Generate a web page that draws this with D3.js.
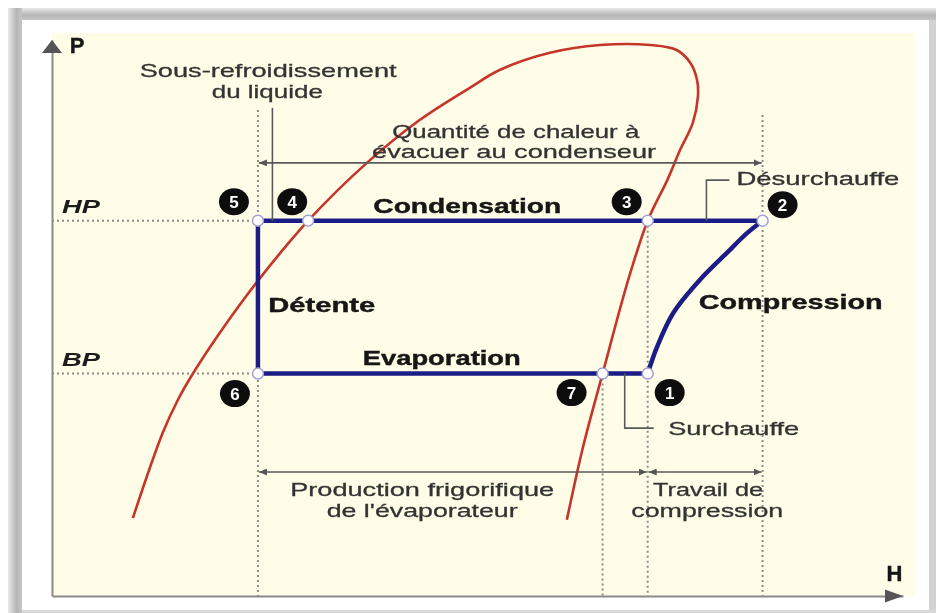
<!DOCTYPE html>
<html lang="fr">
<head>
<meta charset="UTF-8">
<script src="https://cdn.jsdelivr.net/npm/d3@7"></script>
<title>Diagramme P-H</title>
<style>
  body { margin: 0; background: #fff; }
  svg { display: block; font-family: "Liberation Sans", Arial, sans-serif; }
  .reg { fill: #333; font-size: 19px; stroke: #333; stroke-width: 0.3; }
  .big { fill: #151515; font-size: 21px; font-weight: bold; stroke: #151515; stroke-width: 0.4; }
  .lvl { fill: #1c1c1c; font-size: 19px; font-weight: bold; font-style: italic; }
  .dot { stroke: #8c8c8c; stroke-width: 2; stroke-dasharray: 2,3; fill: none; }
  .dim { stroke: #5a5a5a; stroke-width: 1.6; fill: none; }
</style>
</head>
<body>
<script>
// pressure levels
const levels = ["HP", "BP"];
const levelP = [67.5, 40];

// cycle points (H, P)
const pointIds = ["1", "2", "3", "4", "5", "6", "7"];
const pointH = [70.0, 83.5, 70.0, 30.1, 24.2, 24.2, 64.7];
const pointP = [40, 67.5, 67.5, 67.5, 67.5, 40, 40];

// saturation curve (left branch -> top -> right branch)
const domeH = [9.5, 13.0, 14.8, 16.6, 19.7, 24.1, 30.1, 37.0, 43.2, 49.1, 52.6, 58.5, 64.4, 70.3, 73.4, 75.0, 75.8, 75.9, 75.3, 73.8, 72.3, 70.0, 67.7, 64.7, 62.4, 60.5];
const domeP = [14.0, 29.3, 35.3, 40.1, 47.3, 56.5, 67.5, 77.9, 85.6, 91.4, 94.6, 97.7, 99.1, 99.1, 98.2, 95.9, 92.8, 89.8, 85.1, 80.2, 74.8, 67.5, 56.8, 40.0, 26.8, 13.7];

// compression 1 -> 2
const compH = [70.0, 71.1, 73.0, 76.1, 79.3, 81.7, 83.5];
const compP = [40.0, 44.8, 50.9, 56.8, 61.7, 65.3, 67.5];

const W = 936, H = 613;
const hScale = d3.scaleLinear().domain([0, 100]).range([52, 903]);
const pScale = d3.scaleLinear().domain([0, 100]).range([596, 40]);

const svg = d3.select("body").append("svg").attr("width", W).attr("height", H);
const defs = svg.append("defs");

// frame gradients
const gTop = defs.append("linearGradient").attr("id", "gTop").attr("x1", 0).attr("y1", 0).attr("x2", 0).attr("y2", 1);
gTop.append("stop").attr("offset", 0).attr("stop-color", "#e9e9e9");
gTop.append("stop").attr("offset", 0.6).attr("stop-color", "#b6b6b6");
gTop.append("stop").attr("offset", 1).attr("stop-color", "#c6c6c6");
const gLeft = defs.append("linearGradient").attr("id", "gLeft").attr("x1", 0).attr("y1", 0).attr("x2", 1).attr("y2", 0);
gLeft.append("stop").attr("offset", 0).attr("stop-color", "#e9e9e9");
gLeft.append("stop").attr("offset", 0.6).attr("stop-color", "#b6b6b6");
gLeft.append("stop").attr("offset", 1).attr("stop-color", "#c6c6c6");

defs.append("filter").attr("id", "soft")
  .append("feGaussianBlur").attr("stdDeviation", 0.45);

// arrow heads
defs.append("marker").attr("id", "tip")
  .attr("viewBox", "0 0 8 7").attr("refX", 8).attr("refY", 3.5)
  .attr("markerUnits", "userSpaceOnUse").attr("markerWidth", 8).attr("markerHeight", 7)
  .attr("orient", "auto-start-reverse")
  .append("path").attr("d", "M0,0L8,3.5L0,7z").attr("fill", "#555");

// frame
svg.append("rect").attr("x", 8).attr("y", 8).attr("width", W - 8).attr("height", 12).attr("fill", "url(#gTop)");
svg.append("rect").attr("x", 8).attr("y", 8).attr("width", 14).attr("height", H - 8).attr("fill", "url(#gLeft)");
svg.append("rect").attr("x", 929).attr("y", 20).attr("width", 7).attr("height", H - 20).attr("fill", "#d2d2d2");
svg.append("rect").attr("x", 22).attr("y", 610).attr("width", W - 22).attr("height", 3).attr("fill", "#d8d8d8");
svg.append("rect").attr("x", hScale(0)).attr("y", 33)
  .attr("width", 915 - hScale(0)).attr("height", pScale(0) - 33).attr("fill", "#fffde7");

const g = svg.append("g").attr("filter", "url(#soft)");

// axes
g.append("g").attr("transform", `translate(0,${pScale(0)})`)
  .call(d3.axisBottom(hScale).tickValues([]).tickSizeOuter(0))
  .select(".domain").attr("stroke", "#8a8a8a").attr("stroke-width", 2);
g.append("g").attr("transform", `translate(${hScale(0)},0)`)
  .call(d3.axisLeft(pScale).tickValues([]).tickSizeOuter(0))
  .select(".domain").attr("stroke", "#8a8a8a").attr("stroke-width", 2);
const xe = hScale(100), ye = pScale(100);
g.append("path").attr("fill", "#555")
  .attr("d", `M${xe},${pScale(0)}L${xe - 18},${pScale(0) - 6.5}L${xe - 18},${pScale(0) + 6.5}Z`);
g.append("path").attr("fill", "#555")
  .attr("d", `M${hScale(0)},${ye}L${hScale(0) - 10},${ye + 13}L${hScale(0) + 10},${ye + 13}Z`);
g.append("text").attr("x", hScale(2.1)).attr("y", pScale(97.7)).attr("class", "big")
  .style("font-size", "22px").text("P");
g.append("text").attr("x", hScale(99)).attr("y", pScale(2.7)).attr("class", "big")
  .attr("text-anchor", "middle").style("font-size", "22px").text("H");

// pressure level guides
levels.forEach((name, i) => {
  g.append("line").attr("class", "dot")
    .attr("x1", hScale(0)).attr("x2", hScale(pointH[4]))
    .attr("y1", pScale(levelP[i])).attr("y2", pScale(levelP[i]));
  g.append("text").attr("class", "lvl").attr("text-anchor", "middle")
    .attr("x", hScale(3.4)).attr("y", pScale(levelP[i]) - 8)
    .attr("textLength", 38).attr("lengthAdjust", "spacingAndGlyphs").text(name);
});

// vertical enthalpy guides: [h, pTop]
const guides = [[pointH[4], 87.4], [pointH[1], 86.5], [pointH[2], levelP[0]], [pointH[6], levelP[1]]];
guides.forEach(([h, pt]) => {
  g.append("line").attr("class", "dot")
    .attr("x1", hScale(h)).attr("x2", hScale(h))
    .attr("y1", pScale(pt)).attr("y2", pScale(0));
});

// saturation curve
const dome = domeH.map((h, i) => [h, domeP[i]]);
const line = d3.line().x(d => hScale(d[0])).y(d => pScale(d[1])).curve(d3.curveCatmullRom.alpha(0.5));
g.append("path").attr("d", line(dome)).attr("fill", "none")
  .attr("stroke", "#c5342c").attr("stroke-width", 2.6);

// cycle
const navy = "#1e1e86";
const pt = i => [pointH[i], pointP[i]];
g.append("path").attr("fill", "none").attr("stroke", navy).attr("stroke-width", 4.5)
  .attr("stroke-linejoin", "round")
  .attr("d", d3.line().x(d => hScale(d[0])).y(d => pScale(d[1]))([pt(1), pt(4), pt(5), pt(0)]));
g.append("path").attr("fill", "none").attr("stroke", navy).attr("stroke-width", 4.5)
  .attr("d", line(compH.map((h, i) => [h, compP[i]])));

// dimension arrows: [h1, h2, p]
const dims = [[pointH[4], pointH[1], 77.9], [pointH[5], pointH[0], 22.3], [pointH[0], pointH[1], 22.3]];
dims.forEach(([a, b, p]) => {
  g.append("line").attr("class", "dim")
    .attr("x1", hScale(a) + 1).attr("x2", hScale(b) - 1)
    .attr("y1", pScale(p)).attr("y2", pScale(p))
    .attr("marker-start", "url(#tip)").attr("marker-end", "url(#tip)");
});

// pointers
const lp = d3.line().x(d => hScale(d[0])).y(d => pScale(d[1]));
g.append("path").attr("class", "dim").attr("stroke-width", 2.4).attr("stroke", "#444")
  .attr("d", lp([[25.9, 87.8], [25.9, levelP[0]]]));
g.append("path").attr("class", "dim").attr("stroke-width", 2).attr("stroke", "#444")
  .attr("d", lp([[76.9, levelP[0]], [76.9, 74.8], [79.6, 74.8]]));
g.append("path").attr("class", "dim").attr("stroke-width", 2).attr("stroke", "#444")
  .attr("d", lp([[67.3, levelP[1]], [67.3, 30.2], [70.7, 30.2]]));

// point markers
pointIds.forEach((id, i) => {
  g.append("circle").attr("cx", hScale(pointH[i])).attr("cy", pScale(pointP[i])).attr("r", 5.5)
    .attr("fill", "#fff").attr("stroke", "#a0a0d8").attr("stroke-width", 1.5);
});

// numbered badges
const badgeOffset = { "1": [22, 19], "2": [20, -16], "3": [-21, -19], "4": [-16, -19], "5": [-24, -19], "6": [-23, 20], "7": [-31, 19] };
pointIds.forEach((id, i) => {
  const [dx, dy] = badgeOffset[id];
  const cx = hScale(pointH[i]) + dx, cy = pScale(pointP[i]) + dy;
  g.append("ellipse").attr("cx", cx).attr("cy", cy).attr("rx", 15).attr("ry", 13.5).attr("fill", "#111");
  g.append("text").attr("x", cx).attr("y", cy + 6).attr("text-anchor", "middle")
    .attr("fill", "#fff").style("font-size", "17px").style("font-weight", "bold").text(id);
});

// annotations: text, h, p, width, class
const notes = [
  ["Sous-refroidissement", 25.4, 93.4, 257, "reg"],
  ["du liquide", 25.3, 89.6, 111, "reg"],
  ["Quantité de chaleur à", 54.5, 82.4, 247, "reg"],
  ["évacuer au condenseur", 54.3, 78.8, 284, "reg"],
  ["Condensation", 48.8, 68.9, 188, "big"],
  ["Désurchauffe", 90.0, 73.9, 163, "reg"],
  ["Détente", 31.7, 51.1, 107, "big"],
  ["Compression", 86.8, 51.6, 184, "big"],
  ["Evaporation", 45.8, 41.5, 158, "big"],
  ["Surchauffe", 80.1, 29.0, 131, "reg"],
  ["Production frigorifique", 43.5, 18.0, 264, "reg"],
  ["de l'évaporateur", 43.5, 14.2, 191, "reg"],
  ["Travail de", 77.1, 18.0, 110, "reg"],
  ["compression", 77.0, 14.2, 152, "reg"]
];
notes.forEach(([t, h, p, w, c]) => {
  g.append("text").attr("class", c).attr("text-anchor", "middle")
    .attr("x", hScale(h)).attr("y", pScale(p))
    .attr("textLength", w).attr("lengthAdjust", "spacingAndGlyphs").text(t);
});
</script>
</body>
</html>
